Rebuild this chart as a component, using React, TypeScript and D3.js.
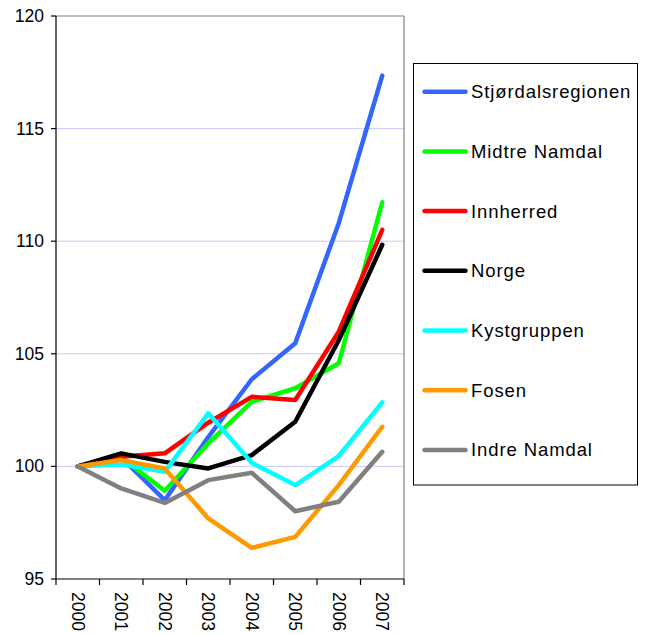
import React from "react";
import * as d3 from "d3";

const years = ["2000", "2001", "2002", "2003", "2004", "2005", "2006", "2007"];
const yTicks = [95, 100, 105, 110, 115, 120];

const seriesNames = [
  "Stjørdalsregionen",
  "Midtre Namdal",
  "Innherred",
  "Norge",
  "Kystgruppen",
  "Fosen",
  "Indre Namdal",
];
const seriesColors = ["#3366ff", "#00ff00", "#ff0000", "#000000", "#00ffff", "#ff9900", "#808080"];

const stjordal = [100, 100.4, 98.5, 101.3, 103.87, 105.47, 110.8, 117.35];
const midtreNamdal = [100, 100.4, 98.92, 101.02, 102.87, 103.47, 104.58, 111.73];
const innherred = [100, 100.43, 100.58, 101.94, 103.09, 102.95, 105.98, 110.5];
const norge = [100, 100.58, 100.2, 99.91, 100.5, 101.98, 105.6, 109.84];
const kystgruppen = [100, 100.09, 99.76, 102.36, 100.16, 99.17, 100.46, 102.84];
const fosen = [100, 100.28, 99.91, 97.69, 96.38, 96.87, 99.17, 101.76];
const indreNamdal = [100, 99.02, 98.38, 99.39, 99.72, 98.01, 98.43, 100.65];

const seriesValues = [stjordal, midtreNamdal, innherred, norge, kystgruppen, fosen, indreNamdal];

const W = 649;
const H = 635;
const plot = { left: 56, right: 404, top: 16, bottom: 579 };
const legend = { x: 413.5, y: 63.5, w: 224, h: 421.5 };

export default function App() {
  const x = d3.scaleBand<string>().domain(years).range([plot.left, plot.right]);
  const y = d3.scaleLinear().domain([95, 120]).range([plot.bottom, plot.top]);
  const cx = (yr: string) => (x(yr) as number) + x.bandwidth() / 2;
  const line = d3
    .line<number>()
    .x((_, i) => cx(years[i]))
    .y((v) => y(v));

  const boundaries = years.map((yr) => x(yr) as number).concat([plot.right]);
  const font = "'Liberation Sans', Arial, sans-serif";
  const legendStep = 59.7;

  return (
    <svg
      width={W}
      height={H}
      style={{ position: "absolute", left: 0, top: 0, background: "#fff" }}
      fontFamily={font}
    >
      <rect x={0} y={0} width={W} height={H} fill="#fff" />
      {yTicks
        .filter((t) => t > 95 && t < 120)
        .map((t) => (
          <line key={"g" + t} x1={plot.left} x2={plot.right} y1={y(t)} y2={y(t)} stroke="#c8c8ff" strokeWidth={1} />
        ))}
      <line x1={plot.left} x2={plot.right} y1={plot.top} y2={plot.top} stroke="#808080" strokeWidth={1.2} />
      <line x1={plot.right} x2={plot.right} y1={plot.top} y2={plot.bottom} stroke="#808080" strokeWidth={1.2} />
      <line x1={plot.left} x2={plot.left} y1={plot.top} y2={plot.bottom} stroke="#000" strokeWidth={1.2} />
      <line x1={plot.left} x2={plot.right} y1={plot.bottom} y2={plot.bottom} stroke="#000" strokeWidth={1.2} />
      {yTicks.map((t) => (
        <g key={"yt" + t}>
          <line x1={plot.left - 5} x2={plot.left} y1={y(t)} y2={y(t)} stroke="#000" strokeWidth={1.2} />
          <text x={44} y={y(t)} textAnchor="end" dominantBaseline="central" fontSize={17.5} fill="#000">
            {t}
          </text>
        </g>
      ))}
      {boundaries.map((b, i) => (
        <line key={"xt" + i} x1={b} x2={b} y1={plot.bottom} y2={plot.bottom + 6} stroke="#000" strokeWidth={1.2} />
      ))}
      {years.map((yr) => (
        <text
          key={"xl" + yr}
          transform={`translate(${cx(yr)},${592}) rotate(90)`}
          textAnchor="start"
          dominantBaseline="central"
          fontSize={17.5}
          fill="#000"
        >
          {yr}
        </text>
      ))}
      {seriesValues.map((vals, i) => (
        <path
          key={"s" + i}
          d={line(vals) as string}
          fill="none"
          stroke={seriesColors[i]}
          strokeWidth={4.5}
          strokeLinejoin="round"
          strokeLinecap="round"
        />
      ))}
      <rect x={legend.x} y={legend.y} width={legend.w} height={legend.h} fill="#fff" stroke="#000" strokeWidth={1} />
      {seriesNames.map((name, i) => {
        const ly = legend.y + 28.2 + i * legendStep;
        return (
          <g key={"l" + i}>
            <line x1={424.5} x2={465.5} y1={ly} y2={ly} stroke={seriesColors[i]} strokeWidth={4.5} strokeLinecap="round" />
            <text x={471} y={ly} dominantBaseline="central" fontSize={18.5} letterSpacing={0.9} fill="#000">
              {name}
            </text>
          </g>
        );
      })}
    </svg>
  );
}
